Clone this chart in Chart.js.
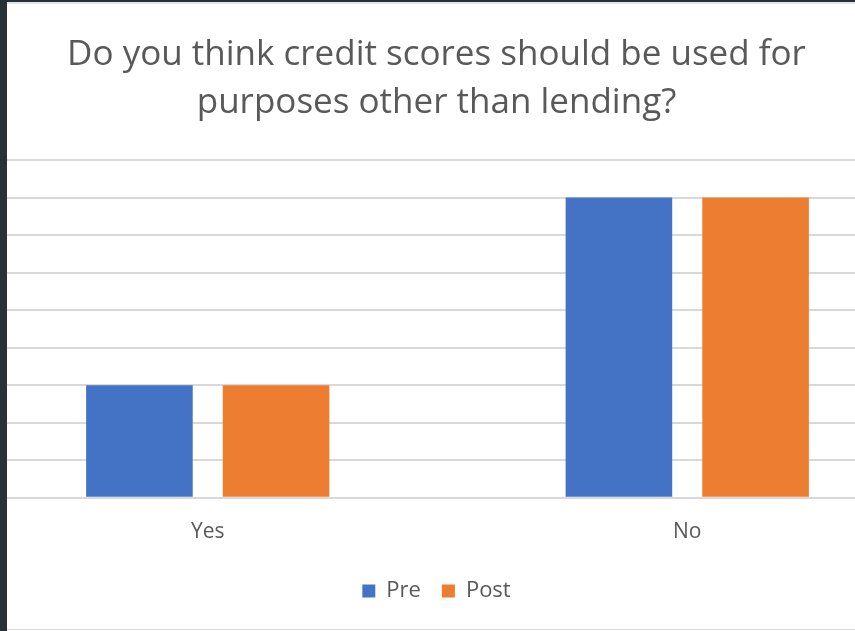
<!DOCTYPE html>
<html>
<head>
<meta charset="utf-8">
<script src="https://cdn.jsdelivr.net/npm/chart.js@4/dist/chart.umd.min.js"></script>
<style>
	html, body { margin: 0; padding: 0; background: #ffffff; width: 855px; height: 631px; overflow: hidden; }
	#edgeLeft { position: absolute; left: 0; top: 0; width: 7px; height: 631px; background: #263238; }
	#edgeTop { position: absolute; left: 0; top: 0; width: 855px; height: 2px; background: #263238; }
	#card {
		position: absolute; left: 7px; top: 2px; right: 0; height: 628px;
		box-sizing: border-box; border-top: 2px solid #e4e4e4; border-bottom: 1px solid #d9d9d9;
		background: #ffffff; overflow: hidden;
	}
	#grafico { position: absolute; left: -61px; top: 0; }
</style>
</head>
<body>
<div id="edgeLeft"></div>
<div id="edgeTop"></div>
<div id="card">
	<canvas id="grafico" width="981" height="625"></canvas>
</div>
<script>
const categorias = ['Yes', 'No'];
const valoresPre = [3, 8];
const valoresPost = [3, 8];
const tituloLinhas = ['Do you think credit scores should be used for', 'purposes other than lending?'];

document.addEventListener('DOMContentLoaded', function () {
	const ctx = document.getElementById('grafico').getContext('2d');
	const corTexto = '#595959';
	const fonte = 'Open Sans';

	const data = {
		labels: categorias,
		datasets: [
			{
				label: 'Pre',
				data: valoresPre,
				backgroundColor: '#4472C4',
				categoryPercentage: 0.57,
				barPercentage: 0.78,
			},
			{
				label: 'Post',
				data: valoresPost,
				backgroundColor: '#ED7D31',
				categoryPercentage: 0.57,
				barPercentage: 0.78,
			},
		],
	};

	const config = {
		type: 'bar',
		data: data,
		options: {
			responsive: false,
			animation: false,
			layout: { padding: { bottom: 17 } },
			plugins: {
				title: {
					display: true,
					text: tituloLinhas,
					color: corTexto,
					font: { family: fonte, size: 35, weight: 'normal', lineHeight: '48px' },
					padding: { top: 27, bottom: 33 },
				},
				legend: {
					display: true,
					position: 'bottom',
					labels: {
						color: corTexto,
						font: { family: fonte, size: 22 },
						boxWidth: 13,
						boxHeight: 13,
						padding: 21,
					},
				},
				tooltip: { enabled: false },
			},
			scales: {
				x: {
					grid: { display: false },
					border: { display: false },
					ticks: {
						color: corTexto,
						font: { family: fonte, size: 21 },
						padding: 14,
					},
				},
				y: {
					min: 0,
					max: 9,
					border: { display: false },
					grid: { color: '#d9d9d9', lineWidth: 2, drawTicks: false },
					ticks: { display: false, stepSize: 1 },
					afterFit: function (scale) { scale.width = 22; },
				},
			},
		},
	};

	new Chart(ctx, config);
});
</script>
</body>
</html>
